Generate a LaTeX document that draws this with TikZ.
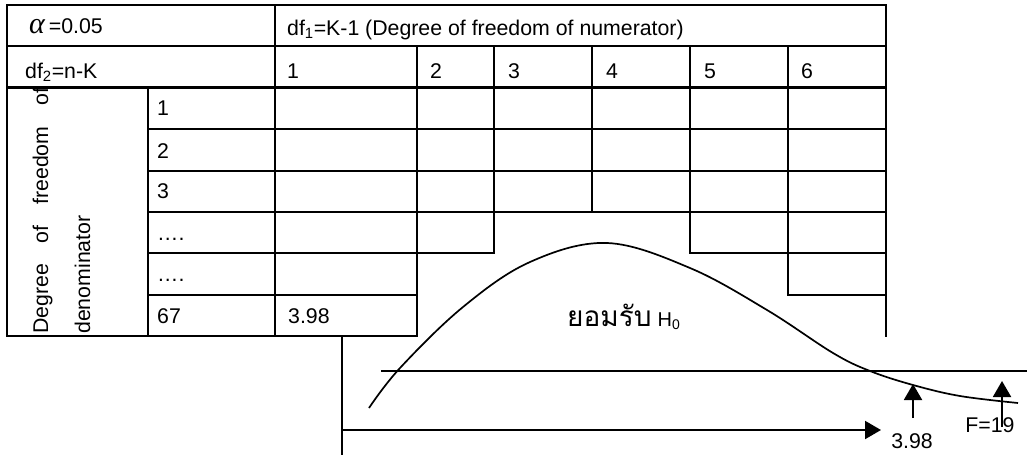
\documentclass[tikz,border=0pt]{standalone}
\usepackage{fontspec}
\setmainfont{Liberation Sans}
\newfontfamily\thaifont[Script=Thai]{Loma}
\newfontfamily\greekit{Liberation Serif}
\usetikzlibrary{arrows.meta}
\begin{document}
\begin{tikzpicture}[x=1pt,y=-1pt,
  tl/.style={line width=2.3pt, line cap=rect},
  txt/.style={inner sep=0pt, anchor=base west, font=\fontsize{21.3}{25}\selectfont},
  rtxt/.style={txt, rotate=90},
  curve/.style={line width=1.7pt},
  axis/.style={line width=2pt},
  ref/.style={line width=1.3pt},
  arr/.style={line width=2pt, -{Triangle[length=16pt,width=18pt]}}]
\useasboundingbox (0,0) rectangle (1027,455);
% table horizontal lines
\draw[tl] (7,4.7) -- (886,4.7);
\draw[tl] (7,46) -- (886,46);
\draw[tl] (7,87.5) -- (886,87.5);
\draw[tl] (148,129) -- (886,129);
\draw[tl] (148,170.7) -- (886,170.7);
\draw[tl] (148,212) -- (886,212);
\draw[tl] (148,253) -- (494,253);
\draw[tl] (690,253) -- (886,253);
\draw[tl] (148,295) -- (417,295);
\draw[tl] (788,295) -- (886,295);
\draw[tl] (7,336) -- (417,336);
% table vertical lines
\draw[tl] (7,4.7) -- (7,336);
\draw[tl] (148,87.5) -- (148,336);
\draw[tl] (275,4.7) -- (275,336);
\draw[tl] (417,46) -- (417,336);
\draw[tl] (494,46) -- (494,253);
\draw[tl] (592,46) -- (592,212);
\draw[tl] (690,46) -- (690,253);
\draw[tl] (788,46) -- (788,295);
\draw[tl] (886,4.7) -- (886,336);
% table texts
\node[txt] (alpha) at (29,33) {{\greekit\itshape\fontsize{30}{30}\selectfont α}\hspace{4pt}=0.05};
\node[txt] (df1) at (287,35) {df\textsubscript{1}=K-1 (Degree of freedom of numerator)};
\node[txt] (df2) at (25,78) {df\textsubscript{2}=n-K};
\node[txt] (c1) at (287,78) {1};
\node[txt] (c2) at (430,78) {2};
\node[txt] (c3) at (508,78) {3};
\node[txt] (c4) at (606,78) {4};
\node[txt] (c5) at (704,78) {5};
\node[txt] (c6) at (801,78) {6};
\node[txt] (r1) at (157,115) {1};
\node[txt] (r2) at (157,158) {2};
\node[txt] (r3) at (157,198) {3};
\node[txt] (r4) at (157,240) {\ldots.};
\node[txt] (r5) at (157,281) {\ldots.};
\node[txt] (r6) at (157,323) {67};
\node[txt] (v67) at (288,323) {3.98};
\node[rtxt] (dof1) at (48,334) {\makebox[246pt][s]{Degree of freedom of}};
\node[rtxt] (dof2) at (90,334) {denominator};
% graph
\draw[axis] (342,336) -- (342,455);
\coordinate (xs) at (342,430);
\coordinate (xe) at (881,430);
\draw[arr] (xs) -- (xe);
\coordinate (hl) at (381,371);
\coordinate (hr) at (1027,371);
\draw[ref] (hl) -- (hr);
\draw[curve] plot[smooth, tension=0.6] coordinates {(369,408) (400,368) (463,307) (530,262) (607,243) (690,268) (767,310) (833,353) (870,371) (913,385) (960,396) (1018,403)};
\node[txt] (acc) at (567,326) {{\thaifont\fontsize{28}{28}\selectfont ยอมรับ} {\fontsize{20}{22}\selectfont H\textsubscript{0}}};
\node[txt, anchor=base] (crit) at (912,448) {3.98};
\node[txt, anchor=base] (fval) at (990,432) {F=19};
\coordinate (a1s) at (913,418);
\coordinate (a1e) at (913,384);
\draw[arr] (a1s) -- (a1e);
\coordinate (a2s) at (1002,427);
\coordinate (a2e) at (1002,381);
\draw[arr] (a2s) -- (a2e);
\end{tikzpicture}
\end{document}
